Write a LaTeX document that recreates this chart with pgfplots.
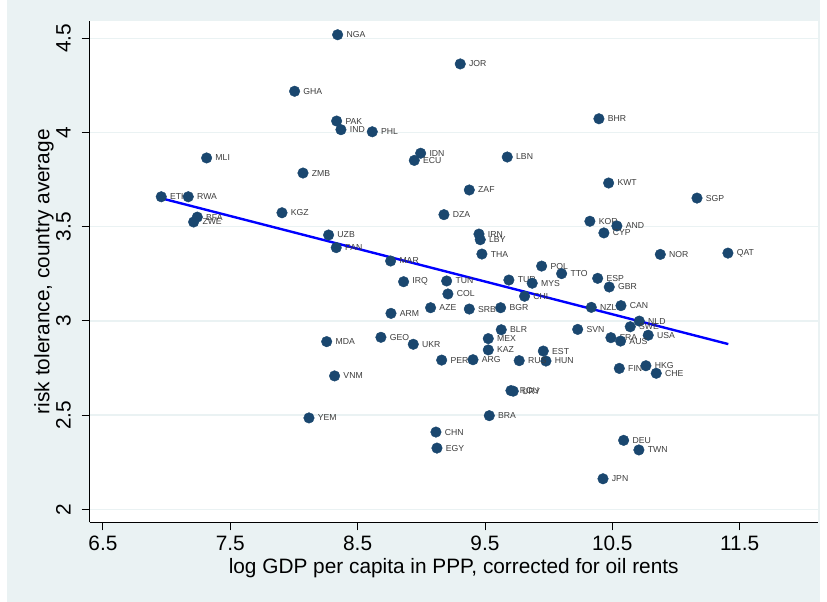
\documentclass[border=0pt]{standalone}
\usepackage{fontspec}
\setmainfont{Liberation Sans}
\usepackage{pgfplots}
\usepackage{pgfplotstable}
\pgfplotsset{compat=1.18}
\definecolor{bgcol}{RGB}{234,242,243}
\definecolor{gridcol}{RGB}{234,242,243}
\definecolor{navy}{RGB}{26,71,111}
\definecolor{labcol}{RGB}{60,60,60}
\pgfplotstableread{
x y lab
8.343 4.519 NGA
9.306 4.364 JOR
8.005 4.219 GHA
8.335 4.061 PAK
8.369 4.015 IND
8.615 4.004 PHL
10.395 4.073 BHR
7.314 3.865 MLI
8.995 3.890 IDN
8.945 3.852 ECU
9.675 3.870 LBN
8.071 3.785 ZMB
10.471 3.732 KWT
9.377 3.695 ZAF
11.165 3.652 SGP
6.958 3.659 ETH
7.170 3.659 RWA
7.241 3.551 BFA
7.212 3.525 ZWE
7.906 3.574 KGZ
9.178 3.564 DZA
10.324 3.529 KOR
10.536 3.504 AND
10.434 3.467 CYP
9.453 3.461 IRN
9.463 3.431 LBY
8.272 3.456 UZB
8.332 3.389 PAN
9.476 3.355 THA
10.877 3.353 NOR
11.408 3.360 QAT
8.759 3.318 MAR
9.945 3.291 POL
10.102 3.251 TTO
10.385 3.226 ESP
10.476 3.180 GBR
8.861 3.208 IRQ
9.199 3.212 TUN
9.688 3.217 TUR
9.871 3.200 MYS
9.209 3.143 COL
9.811 3.131 CHL
8.762 3.040 ARM
9.073 3.070 AZE
9.377 3.063 SRB
9.623 3.070 BGR
10.335 3.072 NZL
10.568 3.081 CAN
10.712 2.999 NLD
10.641 2.969 SWE
10.782 2.924 USA
10.489 2.911 FRA
10.565 2.893 AUS
10.228 2.955 SVN
10.555 2.748 FIN
10.764 2.762 HKG
10.845 2.722 CHE
9.628 2.953 BLR
9.526 2.906 MEX
9.526 2.846 KAZ
9.958 2.840 EST
9.979 2.787 HUN
9.769 2.789 RUS
9.160 2.792 PER
9.406 2.794 ARG
8.683 2.913 GEO
8.937 2.876 UKR
8.257 2.890 MDA
8.319 2.708 VNM
8.118 2.485 YEM
9.704 2.630 ROU
9.722 2.627 URY
9.534 2.497 BRA
9.115 2.410 CHN
9.123 2.325 EGY
10.589 2.366 DEU
10.709 2.315 TWN
10.427 2.162 JPN
}\datatable
\begin{document}
\begin{tikzpicture}
\fill[white] (-89.7bp,-79.7bp) rectangle (737.3bp,522.3bp);
\fill[bgcol] (-82.7bp,-79.7bp) rectangle (730.3bp,522.3bp);
\begin{axis}[
  at={(0,0)}, anchor=south west,
  scale only axis,
  width=728bp, height=501.3bp,
  xmin=6.396, xmax=12.113,
  ymin=1.931, ymax=4.592,
  axis background/.style={fill=white},
  axis lines=left,
  axis line style={-, black, line width=1bp},
  tick align=outside,
  major tick length=8bp,
  tick style={black, line width=0.9bp},
  xtick={6.5,7.5,8.5,9.5,10.5,11.5},
  xticklabels={6.5,7.5,8.5,9.5,10.5,11.5},
  ytick={2,2.5,3,3.5,4,4.5},
  yticklabels={2,2.5,3,3.5,4,4.5},
  ymajorgrids,
  grid style={gridcol, line width=1.5bp},
  /pgf/number format/assume math mode=true,
  ticklabel style={font=\fontsize{20.9}{24}\selectfont, inner sep=0pt},
  xticklabel style={anchor=base, yshift=-20.4bp},
  yticklabel style={xshift=-11bp, rotate=90, anchor=base},
  xlabel={log GDP per capita in PPP, corrected for oil rents},
  ylabel={risk tolerance, country average},
  every axis x label/.style={at={(axis description cs:0.5,0)}, anchor=base, yshift=-50.7bp,
    font=\fontsize{20.9}{24}\selectfont, inner sep=0pt},
  every axis y label/.style={at={(axis description cs:0,0.5)}, xshift=-40.2bp, rotate=90, anchor=base,
    font=\fontsize{20.9}{24}\selectfont, inner sep=0pt},
  clip=false,
]
\addplot[only marks, mark=*, mark size=5.3bp, mark options={fill=navy, draw=navy},
  nodes near coords, point meta=explicit symbolic,
  every node near coord/.style={anchor=west, xshift=8.7bp, inner sep=0pt,
    font=\fontsize{8.7}{10}\selectfont, text=labcol}]
  table[x=x, y=y, meta=lab] {\datatable};
\addplot[blue, line width=2.4bp] coordinates {(6.958,3.651) (11.411,2.877)};
\end{axis}
\pgfresetboundingbox
\path[use as bounding box] (-89.7bp,-79.7bp) rectangle (737.3bp,522.3bp);
\end{tikzpicture}
\end{document}
